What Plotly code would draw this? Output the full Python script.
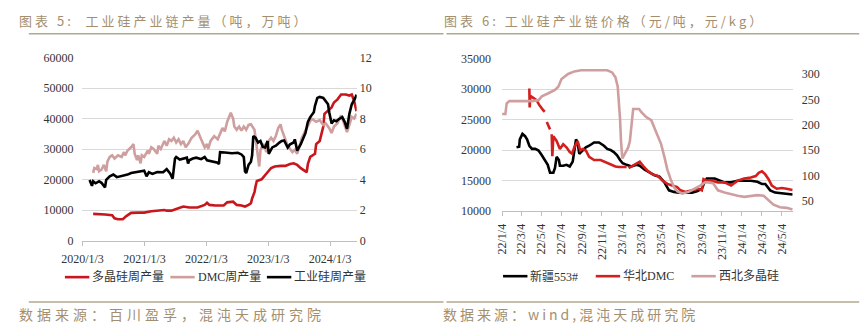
import numpy as np
import pandas as pd
import plotly.graph_objects as go

# ---------------- Left chart data: weekly output ----------------
LEFT_START = "2020-01-03"
left_tick_dates = ["2020-01-03", "2021-01-03", "2022-01-03", "2023-01-03", "2024-01-03"]
left_tick_text = ["2020/1/3", "2021/1/3", "2022/1/3", "2023/1/3", "2024/1/3"]

# 多晶硅周产量 (吨) — week index since 2020-01-03
poly_week = [9, 14, 19, 25, 27, 30, 34, 37, 41, 47, 52, 58, 63, 69, 71, 75, 79, 85, 90, 97,
             103, 105, 107, 112, 119, 122, 127, 130, 134, 137, 140, 142, 143, 145, 146, 147,
             151, 153, 156, 159, 162, 167, 171, 175, 178, 181, 184, 188, 189, 190, 192, 196,
             197, 200, 203, 204, 207, 210, 212, 215, 218, 222, 225, 227, 229, 231]
poly_output = [8800, 8800, 8600, 8400, 7350, 7030, 7030, 8080, 9130, 9230, 9230, 9650, 9860,
               10070, 9860, 9860, 10390, 11220, 10900, 10900, 11750, 12480, 11750, 11540,
               11540, 12590, 12800, 11750, 11540, 11220, 11750, 12270, 13850, 15950, 18040,
               19620, 20140, 21190, 22450, 23810, 24340, 24550, 24550, 25180, 25390, 24860,
               23810, 22760, 22450, 25180, 27480, 28530, 31680, 32730, 37450, 41640, 42690,
               43740, 45320, 46360, 47940, 47940, 47620, 47940, 45840, 42500]

# DMC周产量 (吨)
dmc_week = [9, 10, 12, 13, 14, 16, 18, 20, 21, 23, 25, 27, 30, 33, 35, 36, 38, 41, 43, 44, 46,
            47, 49, 50, 52, 55, 56, 58, 60, 63, 64, 66, 69, 71, 73, 75, 77, 79, 81, 83, 85, 87,
            89, 92, 95, 97, 100, 103, 105, 106, 108, 111, 114, 116, 118, 120, 122, 125, 127,
            128, 130, 132, 134, 136, 138, 140, 142, 145, 146, 147, 149, 150, 151, 153, 155,
            157, 159, 161, 163, 165, 167, 168, 170, 173, 175, 177, 179, 181, 183, 185, 187,
            189, 191, 193, 195, 197, 200, 203, 205, 208, 210, 212, 215, 218, 220, 223, 225,
            227, 229, 231]
dmc_output = [22240, 23810, 23500, 24860, 22760, 23290, 24860, 22760, 25910, 27480, 28010,
              26960, 28010, 27480, 29060, 28010, 29580, 30630, 31680, 28530, 26430, 28010,
              25390, 28010, 27480, 29580, 28530, 30630, 30100, 28530, 31150, 30100, 32730,
              31150, 33250, 32730, 33770, 32210, 33250, 31680, 32730, 30630, 31680, 33770,
              34830, 36090, 33250, 30630, 31680, 30100, 32730, 34300, 33250, 35350, 36930,
              35880, 39020, 41960, 40070, 37450, 36400, 37450, 36090, 37450, 36400, 37970,
              38180, 36400, 33770, 30630, 24340, 29580, 30630, 31680, 29060, 32730, 33770,
              32730, 34300, 36930, 38180, 36400, 34300, 31150, 30100, 29060, 29790, 28530,
              31150, 33770, 35350, 36930, 39020, 40070, 39540, 39020, 39540, 37970, 38500,
              36930, 35350, 37450, 38500, 41120, 39020, 35670, 37970, 40600, 40070, 41640]

# 工业硅周产量 (万吨)
si_week = [6, 8, 9, 11, 14, 16, 19, 20, 23, 26, 29, 33, 38, 41, 45, 49, 52, 54, 56, 59, 63, 68,
           71, 74, 76, 78, 79, 82, 85, 88, 89, 90, 93, 96, 100, 103, 105, 110, 114, 115, 116,
           120, 126, 131, 134, 136, 137, 138, 140, 142, 143, 144, 146, 148, 150, 152, 154, 156,
           157, 160, 163, 166, 168, 170, 173, 175, 178, 179, 181, 184, 186, 188, 190, 192, 195,
           196, 198, 200, 203, 205, 207, 208, 210, 212, 214, 216, 219, 221, 223, 225, 227, 230,
           231]
si_output = [3.98, 3.6, 3.9, 3.77, 3.9, 3.8, 3.5, 4.0, 4.23, 4.34, 4.17, 4.23, 4.34, 4.44, 4.49,
             4.55, 4.6, 4.23, 4.49, 4.38, 4.5, 4.49, 4.7, 4.4, 4.07, 5.39, 5.49, 5.32, 5.39,
             5.45, 5.07, 5.28, 5.39, 5.45, 5.35, 5.49, 5.28, 5.18, 5.12, 5.03, 5.81, 5.79, 5.74,
             5.77, 5.66, 5.49, 4.55, 4.44, 4.97, 5.18, 5.6, 6.86, 6.75, 6.44, 6.54, 6.16, 6.12,
             6.54, 5.7, 6.12, 6.23, 6.44, 6.54, 6.58, 6.12, 6.33, 6.44, 6.65, 5.91, 6.33, 6.65,
             7.07, 7.8, 8.11, 8.43, 8.85, 9.37, 9.43, 9.37, 9.16, 8.95, 8.43, 7.69, 7.9, 7.84,
             7.97, 8.11, 7.8, 7.34, 8.32, 8.95, 9.37, 9.58]

# ---------------- Right chart data: prices ----------------
RIGHT_START = "2022-01-04"
right_tick_dates = ["2022-01-04", "2022-03-04", "2022-05-04", "2022-07-04", "2022-09-04",
                    "2022-11-04", "2023-01-04", "2023-03-04", "2023-05-04", "2023-07-04",
                    "2023-09-04", "2023-11-04", "2024-01-04", "2024-03-04", "2024-05-04"]
right_tick_text = ["22/1/4", "22/3/4", "22/5/4", "22/7/4", "22/9/4", "22/11/4", "23/1/4",
                   "23/3/4", "23/5/4", "23/7/4", "23/9/4", "23/11/4", "24/1/4", "24/3/4",
                   "24/5/4"]

# 新疆553# (元/吨) — day index since 2022-01-04
xj553_day = [44, 52, 54, 62, 70, 76, 83, 91, 101, 111, 121, 131, 139, 146, 156, 161, 166, 173,
             176, 186, 196, 206, 215, 220, 225, 230, 235, 245, 255, 265, 280, 295, 310, 320,
             330, 340, 350, 359, 367, 379, 394, 409, 419, 434, 449, 464, 479, 494, 508, 523,
             538, 558, 578, 593, 608, 616, 623, 647, 662, 677, 697, 717, 737, 757, 777, 791,
             801, 816, 831, 856, 884]
xj553_price = [20460, 20560, 21770, 22660, 22290, 21770, 20720, 20200, 20200, 19940, 19150,
               18370, 17580, 16280, 16280, 17060, 18890, 18370, 17430, 17430, 17580, 17320,
               18110, 19940, 21770, 21250, 19410, 19940, 20460, 20720, 21250, 21250, 20720,
               20200, 20040, 19680, 19150, 18370, 17850, 17580, 17320, 17580, 17430, 16800,
               16280, 15860, 15650, 14710, 13400, 13140, 13030, 13030, 13030, 13240, 13660,
               14710, 15330, 15330, 14970, 14710, 14710, 14970, 14970, 14970, 14810, 14450,
               14450, 13400, 13030, 12880, 12720]

# 华北DMC (元/吨) — None marks missing data
hbdmc_day = [83, 84, 86, 95, 105, 112, 118, 126, 130, 133, 136, 146, 148,
             151, 153, 156, 166, 176, 186, 196, 206, 213, 220, 230, 238, 245, 255, 265, 280,
             300, 310, 320, 335, 345, 355, 379, 382,
             385, 394, 409, 419, 429, 444, 459, 474, 489, 503, 518, 533, 543, 558, 578, 598,
             608, 613, 623, 637, 657, 677, 697, 717, 737, 757, 772, 781, 791, 801, 811, 821,
             836, 851, 866, 884]
hbdmc_price = [30100, 27000, 28900, 28600, 28200, 27500, 27000, 26500, 26300, None, 24600, 23400, None,
               22600, 19000, 22300, 21500, 20200, 20980, 20460, 19680, 19410, 20460, 21500,
               19940, 20200, 19940, 18890, 18370, 18370, 18110, 17850, 17580, 17320, 17220,
               17220, None,
               17060, 17320, 17850, 18110, 17430, 16540, 16010, 15750, 14970, 14450, 14180,
               13920, 13400, 13140, 13400, 13660, 13400, 15230, 14970, 14970, 14710, 14710,
               14180, 14970, 15330, 15490, 15750, 16280, 16540, 16010, 15230, 14180, 13660,
               13770, 13660, 13450]

# 西北多晶硅 (元/kg)
xbpoly_day = [0, 10, 14, 22, 52, 91, 111, 121, 141, 161, 171, 181, 201, 220, 240, 270, 320,
              335, 345, 352, 356, 359, 362, 366, 374, 384, 389, 394, 399, 409, 417, 424, 439,
              454, 464, 474, 484, 494, 503, 513, 523, 533, 548, 568, 588, 603, 618, 628, 642,
              657, 677, 697, 717, 737, 757, 777, 796, 811, 826, 846, 866, 884]
xbpoly_price = [221, 221, 242, 246.5, 246.5, 246.5, 248.4, 256, 262, 268.5, 275, 290, 300,
                305, 307.4, 307.4, 307.4, 303, 293.6, 275, 243, 212, 168, 133.5, 143, 155.5,
                168, 199.5, 231, 231, 231, 224.6, 215, 209, 193, 180.6, 161.8, 136.7, 111.6,
                92.8, 77, 69, 64.5, 67.7, 74, 80.2, 86.5, 86.5, 85, 70.8, 66.4, 62.6, 60, 58,
                60, 61.4, 60, 52, 42.6, 37.5, 36.3, 33]


def to_dates(start, offsets, unit_days):
    return pd.Timestamp(start) + pd.to_timedelta(np.array(offsets) * unit_days, unit="D")


W, H = 868, 333
RED = "#c8161d"
RED2 = "#d41f1f"
PINK = "#cf9f9f"
BLACK = "#000000"
GRID = "#d9d9d9"
AXIS = "#bfbfbf"
TAN = "#a38f6f"
SERIF = "Liberation Serif, Noto Sans CJK SC, serif"
CJK = "Noto Sans CJK SC, sans-serif"

fig = go.Figure()

# (name, color, x, y, xaxis, yaxis, legend sample start px, legend y px)
series = [
    ("多晶硅周产量", RED, to_dates(LEFT_START, poly_week, 7), poly_output, "x", "y", 45, 282),
    ("DMC周产量", PINK, to_dates(LEFT_START, dmc_week, 7), dmc_output, "x", "y", 153, 282),
    ("工业硅周产量", BLACK, to_dates(LEFT_START, si_week, 7), si_output, "x", "y2", 252, 282),
    ("新疆553#", BLACK, to_dates(RIGHT_START, xj553_day, 1), xj553_price, "x2", "y3", 494, 281),
    ("华北DMC", RED2, to_dates(RIGHT_START, hbdmc_day, 1), hbdmc_price, "x2", "y3", 589, 281),
    ("西北多晶硅", PINK, to_dates(RIGHT_START, xbpoly_day, 1), xbpoly_price, "x2", "y4", 687, 281),
]

for name, color, xs, ys, xa, ya, lx, ly in series:
    fig.add_trace(go.Scatter(x=xs, y=ys, name=name, mode="lines",
                             line=dict(color=color, width=2.6), xaxis=xa, yaxis=ya,
                             connectgaps=False, showlegend=False))
    # legend entry: short line sample + label
    fig.add_shape(type="line", xref="paper", yref="paper", x0=lx / W, x1=(lx + 25) / W,
                  y0=1 - ly / H, y1=1 - ly / H, line=dict(color=color, width=2.6))
    fig.add_annotation(x=(lx + 26) / W, y=1 - ly / H, xref="paper", yref="paper",
                       xanchor="left", yanchor="middle", showarrow=False, text=name,
                       font=dict(family=SERIF, size=12, color="#333333"))

tickfont = dict(family=SERIF, size=12, color="#333333")

fig.update_layout(
    width=W, height=H, margin=dict(l=0, r=0, t=0, b=0),
    paper_bgcolor="white", plot_bgcolor="white", showlegend=False,
    xaxis=dict(domain=[63 / W, 344 / W], anchor="y", type="date",
               range=["2020-01-03", "2024-06-08"], tickvals=left_tick_dates,
               ticktext=left_tick_text, showgrid=False, showline=True, linecolor=AXIS,
               linewidth=1, ticks="outside", ticklen=4, tickcolor=AXIS, tickfont=tickfont,
               ticklabelstandoff=3, zeroline=False),
    yaxis=dict(domain=[1 - 244 / H, 1 - 53 / H], anchor="x", range=[0, 60000], dtick=10000,
               tickformat="d", showgrid=True, gridcolor=GRID, gridwidth=1, zeroline=False,
               showline=False, ticks="", tickfont=tickfont, ticklabelstandoff=8),
    yaxis2=dict(overlaying="y", anchor="x", side="right", range=[0, 12], dtick=2,
                showgrid=False, zeroline=False, showline=False, ticks="", tickfont=tickfont,
                ticklabelstandoff=2),
    xaxis2=dict(domain=[493 / W, 791 / W], anchor="y3", type="date",
                range=["2022-01-04", "2024-06-07"], tickvals=right_tick_dates,
                ticktext=right_tick_text, tickangle=-90, showgrid=False, showline=True,
                linecolor=AXIS, linewidth=1, ticks="outside", ticklen=4, tickcolor=AXIS,
                tickfont=tickfont, ticklabelstandoff=3, zeroline=False),
    yaxis3=dict(domain=[1 - 213 / H, 1 - 54 / H], anchor="x2", range=[10000, 35000],
                dtick=5000, tickformat="d", showgrid=True, gridcolor=GRID, gridwidth=1,
                zeroline=False, showline=False, ticks="", tickfont=tickfont,
                ticklabelstandoff=10),
    yaxis4=dict(overlaying="y3", anchor="x2", side="right", range=[30, 330], dtick=50,
                showgrid=False, zeroline=False, showline=False, ticks="", tickfont=tickfont,
                ticklabelstandoff=8),
)

# titles and sources (letter-spaced; x compensates for the spacing offset)
fig.add_annotation(x=-4 / W, y=1 - 14 / H, xref="paper", yref="paper", xanchor="left",
                   yanchor="middle", align="left", showarrow=False,
                   text='<span style="letter-spacing:3px">图表 5:  工业硅产业链产量（吨，万吨）</span>',
                   font=dict(family=CJK, size=13, color=TAN))
fig.add_annotation(x=431 / W, y=1 - 14 / H, xref="paper", yref="paper", xanchor="left",
                   yanchor="middle", align="left", showarrow=False,
                   text='<span style="letter-spacing:3px">图表 6: 工业硅产业链价格（元/吨，元/kg）</span>',
                   font=dict(family=CJK, size=13, color=TAN))
fig.add_annotation(x=-4 / W, y=1 - 320 / H, xref="paper", yref="paper", xanchor="left",
                   yanchor="middle", align="left", showarrow=False,
                   text='<span style="letter-spacing:4px">数据来源：百川盈孚，混沌天成研究院</span>',
                   font=dict(family=CJK, size=14, color=TAN))
fig.add_annotation(x=430 / W, y=1 - 320 / H, xref="paper", yref="paper", xanchor="left",
                   yanchor="middle", align="left", showarrow=False,
                   text='<span style="letter-spacing:3px">数据来源：wind,混沌天成研究院</span>',
                   font=dict(family=CJK, size=14, color=TAN))

for y0 in (28, 308):
    fig.add_shape(type="line", xref="paper", yref="paper", x0=8 / W, x1=433 / W,
                  y0=1 - y0 / H, y1=1 - y0 / H, line=dict(color="#b3a88f", width=1.5))
    fig.add_shape(type="line", xref="paper", yref="paper", x0=436 / W, x1=859 / W,
                  y0=1 - y0 / H, y1=1 - y0 / H, line=dict(color="#b3a88f", width=1.5))

fig.write_html("out.html")
